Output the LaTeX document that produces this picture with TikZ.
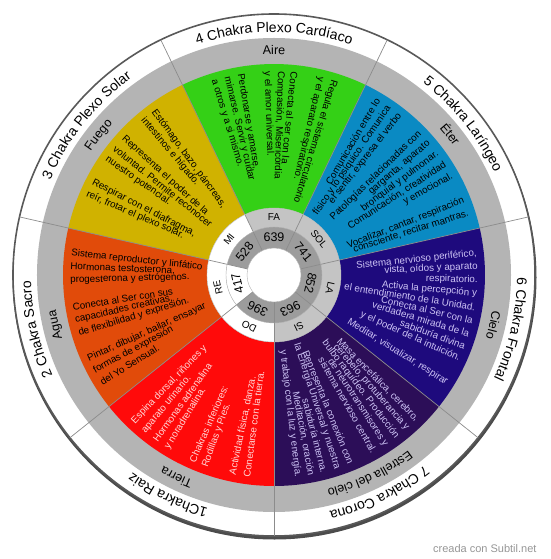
\documentclass[tikz,border=0pt]{standalone}
\usepackage{fontspec}
\setmainfont{Liberation Sans}
\usetikzlibrary{decorations.text}
\definecolor{aire}{RGB}{52,208,22}
\definecolor{eter}{RGB}{10,138,195}
\definecolor{cielo}{RGB}{30,10,125}
\definecolor{estrella}{RGB}{44,14,88}
\definecolor{tierra}{RGB}{255,10,10}
\definecolor{agua}{RGB}{225,75,10}
\definecolor{fuego}{RGB}{208,178,0}
\definecolor{grisanillo}{RGB}{180,180,180}
\definecolor{grisnota}{RGB}{196,196,196}
\definecolor{grishz}{RGB}{156,156,156}
\definecolor{lila}{RGB}{205,195,245}
\definecolor{rosa}{RGB}{255,215,215}
\definecolor{marca}{RGB}{150,150,150}
\tikzstyle{haciafuera}=[
	anchor=east,
	inner sep=0,
	font=\fontsize{9.8}{11}\selectfont]
\tikzstyle{haciadentro}=[
	anchor=west,
	inner sep=0,
	font=\fontsize{9.8}{11}\selectfont]
\tikzstyle{solfeo}=[
	inner sep=0,
	font=\fontsize{10}{12}\selectfont]
\tikzstyle{hercio}=[
	inner sep=0,
	font=\fontsize{12.5}{14}\selectfont]
\tikzstyle{divisor}=[
	draw=gray!90,
	line width=0.7]
\tikzset{chakra/.style={decorate,decoration={text along path,text align=center,
	text={|\fontsize{14}{16}\selectfont|#1}}}}
\tikzset{elemento/.style={decorate,decoration={text along path,text align=center,
	text={|\fontsize{12.5}{14}\selectfont|#1}}}}
\begin{document}
\begin{tikzpicture}[x=1pt,y=1pt]
	\useasboundingbox (-274,-284) rectangle (276,275);
	% borde y anillos
	\fill[gray!60!black] (0.5,-2.5) circle (262);
	\draw[fill=white,draw=gray!70!black,line width=1.6] (0,0) circle (261);
	\fill[grisanillo] (0,0) circle (237);
	\foreach \a/\c in {64.29/aire,12.86/eter,-38.57/cielo,-90/estrella,-141.43/tierra,167.14/agua,115.71/fuego}
		\fill[\c] (0,0) -- (\a:211) arc[start angle=\a,end angle=\a+51.43,radius=211] -- cycle;
	\foreach \a in {-90,-38.57,12.86,64.29,115.71,167.14,218.57}
		\draw[divisor] (\a:67) -- (\a:261);
	% notas y frecuencias
	\fill[grisnota] (0,0) circle (67);
	\fill[white] (0,0) -- (115.71:67) arc[start angle=115.71,end angle=270,radius=67] -- cycle;
	\fill[grishz] (0,0) circle (48);
	\fill[white] (0,0) -- (167.14:48) arc[start angle=167.14,end angle=218.57,radius=48] -- cycle;
	\foreach \a in {-90,-38.57,12.86,64.29,115.71,167.14,218.57}
		\draw[divisor] (\a:27) -- (\a:67);
	\draw[gray!50] (0,0) circle (67);
	\draw[gray!60] (0,0) circle (48);
	\draw[fill=white,draw=gray!60] (0,0) circle (27);
	\foreach \a/\n/\f [count=\i] in {90/FA/639,38.57/SOL/741,-12.86/LA/852,-64.29/SI/963,-115.71/DO/396,-167.14/RE/417,141.43/MI/528}{
		\node[solfeo,rotate=\a-90] (nota\i) at (\a:57.5) {\n};
		\node[hercio,rotate=\a-90] (hz\i) at (\a:37.5) {\f};
	}
	% nombres de chakras
	\path[chakra={4 Chakra Plexo Cardíaco}] (115.71:243) arc[start angle=115.71,end angle=64.29,radius=243];
	\path[chakra={5 Chakra Laríngeo}] (64.29:243) arc[start angle=64.29,end angle=12.86,radius=243];
	\path[chakra={6 Chakra Frontal}] (12.86:243) arc[start angle=12.86,end angle=-38.57,radius=243];
	\path[chakra={7 Chakra Corona}] (-38.57:243) arc[start angle=-38.57,end angle=-90,radius=243];
	\path[chakra={1Chakra Raiz}] (-90:243) arc[start angle=-90,end angle=-141.43,radius=243];
	\path[chakra={2 Chakra Sacro}] (218.57:243) arc[start angle=218.57,end angle=167.14,radius=243];
	\path[chakra={3 Chakra Plexo Solar}] (167.14:243) arc[start angle=167.14,end angle=115.71,radius=243];
	% elementos
	\path[elemento={Aire}] (115.71:221) arc[start angle=115.71,end angle=64.29,radius=221];
	\path[elemento={Éter}] (64.29:221) arc[start angle=64.29,end angle=12.86,radius=221];
	\path[elemento={Cielo}] (12.86:221) arc[start angle=12.86,end angle=-38.57,radius=221];
	\path[elemento={Estrella del cielo}] (-38.57:221) arc[start angle=-38.57,end angle=-90,radius=221];
	\path[elemento={Tierra}] (-90:221) arc[start angle=-90,end angle=-141.43,radius=221];
	\path[elemento={Agua}] (218.57:221) arc[start angle=218.57,end angle=167.14,radius=221];
	\path[elemento={Fuego}] (167.14:221) arc[start angle=167.14,end angle=115.71,radius=221];
	% textos de los sectores
	\foreach \s/\t in {0/{Regula el sistema circulatorio},1/{y el aparato respiratorio.},3/{Conecta al ser con la},
		4/{Compasión, Misericordia},5/{y el amor universal.},7/{Perdonarse y amarse,},
		8/{mimarse. Servir y cuidar},9/{a otros y a si mismo.}}
		\node[haciadentro,rotate={72.9+\s*3.8-180}] (aire\s) at ({72.9+\s*3.8}:204) {\t};
	\foreach \s/\t in {0/{Estómago, bazo, páncreas,},1/{intestinos e hígado.},3/{Representa el poder de la},
		4/{voluntad. Permite reconocer},5/{nuestro potencial.},7/{Respirar con el diafragma,},
		8/{reír, frotar el plexo solar.}}
		\node[haciadentro,rotate={126.23+\s*3.8-180}] (fuego\s) at ({126.23+\s*3.8}:204) {\t};
	\foreach \s/\t in {0/{Sistema reproductor y linfático},1/{Hormonas testosterona,},2/{progesterona y estrógenos.},
		4/{Conecta al Ser con sus},5/{capacidades creativas,},6/{de flexibilidad y expresión.},
		8/{Pintar, dibujar, bailar, ensayar},9/{formas de expresión},10/{del Yo Sensual.}}
		\node[haciadentro,rotate={173.86+\s*3.8-180}] (agua\s) at ({173.86+\s*3.8}:204) {\t};
	\foreach \s/\t in {0/{Espina dorsal, riñones y},1/{aparato urinario.},2/{Hormonas adrenalina},
		3/{y noradrenalina.},5/{Chakras inferiores:},6/{Rodillas y Pies.},
		8/{Actividad física, danza.},9/{Conectarse con la tierra.}}
		\node[haciadentro,text=rosa,rotate={-133.71+\s*4-180}] (tierra\s) at ({-133.71+\s*4}:204) {\t};
	\foreach \s/\t in {0/{Comunicación entre lo},1/{físico y lo psíquico. Comunica},2/{el sentir, expresa el verbo},
		4/{Patologías relacionadas con},5/{garganta, aparato},6/{bronquial y pulmonar.},
		7/{Comunicación, creatividad},8/{y emocional.},10/{Vocalizar, cantar, respiración},
		11/{consciente, recitar mantras.}}
		\node[haciafuera,rotate={59.47-\s*3.8}] (eter\s) at ({59.47-\s*3.8}:204) {\t};
	\foreach \s/\t in {0/{Sistema nervioso periférico,},1/{vista, oídos y aparato},2/{respiratorio.},
		3/{Activa la percepción y},4/{el entendimiento de la Unidad.},5/{Conecta al Ser con la},
		6/{verdadera mirada de la},7/{sabiduría divina},8/{y el poder de la intuición.},
		10/{Meditar, visualizar, respirar}}
		\node[haciafuera,text=lila,rotate={6.14-\s*3.8}] (cielo\s) at ({6.14-\s*3.8}:204) {\t};
	\foreach \s/\t in {0/{Masa encefálica, cerebro,},1/{cerebelo, protuberancia y},2/{bulbo raquídeo. Producción},
		3/{de neurotransmisores y},4/{sistema nervioso central.},6/{Representa la conexión con},
		7/{la Energía Universal y nuestra},8/{sabiduría interna.},9/{Meditación, oración},
		10/{y trabajo con la luz y energía.}}
		\node[haciafuera,text=lila,rotate={-45.29-\s*3.8}] (estrella\s) at ({-45.29-\s*3.8}:204) {\t};
	\node[anchor=east,text=marca,font=\fontsize{11}{13}\selectfont] (marca) at (266,-274) {creada con Subtil.net};
\end{tikzpicture}
\end{document}
